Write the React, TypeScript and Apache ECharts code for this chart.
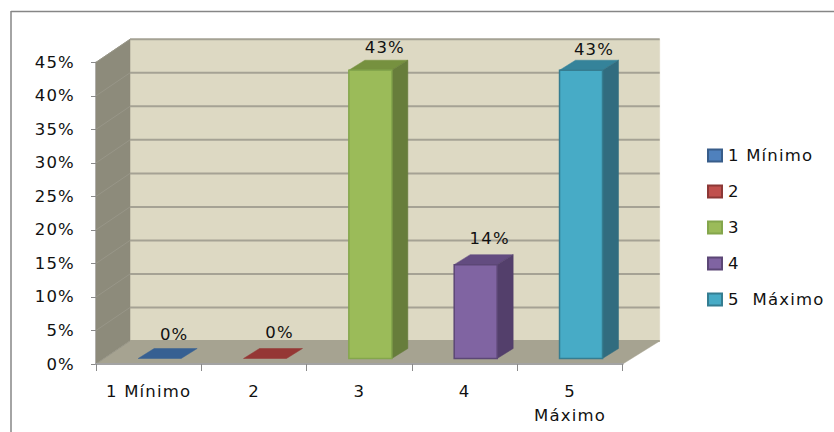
import React, { useEffect, useRef } from "react";
import * as echarts from "echarts";

const categories = ["1 Mínimo", "2", "3", "4", "5\nMáximo"];
const legendNames = ["1 Mínimo", "2", "3", "4", "5  Máximo"];
const shares = [0, 0, 43, 14, 43];
const percentTicks = [0, 5, 10, 15, 20, 25, 30, 35, 40, 45];

const frontColors = ["#4f81bd", "#c0504d", "#9bbb59", "#8064a2", "#47abc6"];
const edgeColors = ["#385d8a", "#8c3836", "#84a64c", "#5c4776", "#357d91"];
const topColors = ["#376092", "#953735", "#76913f", "#634c80", "#35839a"];
const sideColors = ["#2c4d75", "#772c2a", "#677d3b", "#533f6b", "#316c7f"];

// Oblique projection of the plot box and of the bars standing in it.
const WALL_DX = 34;
const WALL_DY = -23;
const BAR_SHIFT_X = 11;
const BAR_SHIFT_Y = -5.5;
const BAR_HALF = 21.5;
const SIDE_DX = 16;
const SIDE_DY = -10;
const labelShiftX = [14.5, 14.5, 14.5, 14, 13];
const labelLift = [4.5, 6, 2.5, 6, 0.5];

const FONT = "DejaVu Sans";
const FONT_SIZE = 16.5;

function poly(points: number[][], fill: string, stroke?: string) {
  return {
    type: "polygon",
    shape: { points },
    style: { fill, stroke: stroke ?? fill, lineWidth: stroke ? 1.5 : 0.5 },
  };
}

function renderWalls(_: any, api: any) {
  const bottomLeft = api.coord([0, 0]);
  const band = api.size([1, 0])[0];
  const x0 = bottomLeft[0] - band / 2;
  const x1 = x0 + band * categories.length;
  const y0 = bottomLeft[1];
  const y1 = api.coord([0, percentTicks[percentTicks.length - 1]])[1];
  const children: any[] = [
    poly([[x0 + WALL_DX, y1 + WALL_DY], [x1 + WALL_DX + 3, y1 + WALL_DY], [x1 + WALL_DX + 3, y0 + WALL_DY], [x0 + WALL_DX, y0 + WALL_DY]], "#ddd9c3"),
    poly([[x0, y1], [x0 + WALL_DX, y1 + WALL_DY], [x0 + WALL_DX, y0 + WALL_DY], [x0, y0]], "#8d8b7b"),
    poly([[x0, y0], [x0 + WALL_DX, y0 + WALL_DY], [x1 + WALL_DX + 3, y0 + WALL_DY], [x1, y0]], "#a6a391"),
  ];
  percentTicks.forEach((tick) => {
    const y = api.coord([0, tick])[1];
    children.push({
      type: "line",
      shape: { x1: x0 + WALL_DX, y1: y + WALL_DY, x2: x1 + WALL_DX + 3, y2: y + WALL_DY },
      style: { stroke: tick > 0 ? "#a5a294" : "#a6a391", lineWidth: 2 },
    });
    children.push({
      type: "line",
      shape: { x1: x0, y1: y, x2: x0 + WALL_DX, y2: y + WALL_DY },
      style: { stroke: "#989688", lineWidth: 1 },
    });
  });
  return { type: "group", children };
}

function renderBar(_: any, api: any) {
  const index = api.value(0);
  const value = api.value(1);
  const base = api.coord([index, 0]);
  const top = api.coord([index, value]);
  const left = base[0] + BAR_SHIFT_X - BAR_HALF;
  const right = base[0] + BAR_SHIFT_X + BAR_HALF;
  const yb = base[1] + BAR_SHIFT_Y;
  const yt = top[1] + BAR_SHIFT_Y;
  const children: any[] = [
    poly([[left, yt], [left + SIDE_DX, yt + SIDE_DY], [right + SIDE_DX, yt + SIDE_DY], [right, yt]], topColors[index]),
  ];
  if (value > 0) {
    children.push(
      poly([[right, yt], [right + SIDE_DX, yt + SIDE_DY], [right + SIDE_DX, yb + SIDE_DY], [right, yb]], sideColors[index]),
      poly([[left, yt], [right, yt], [right, yb], [left, yb]], frontColors[index], edgeColors[index]),
    );
  }
  children.push({
    type: "text",
    style: {
      text: `${value}%`,
      x: base[0] + BAR_SHIFT_X + labelShiftX[index],
      y: yt + SIDE_DY - labelLift[index] - 10,
      align: "center",
      verticalAlign: "middle",
      fontFamily: FONT,
      fontSize: FONT_SIZE,
      fill: "#111111",
    },
  });
  return { type: "group", children };
}

export default function App() {
  const ref = useRef<HTMLDivElement>(null);
  useEffect(() => {
    const chart = echarts.init(ref.current!, undefined, { renderer: "svg" });
    chart.setOption({
      animation: false,
      backgroundColor: "#ffffff",
      textStyle: { fontFamily: FONT },
      grid: { left: 96, right: 211.3, top: 62.3, bottom: 68 },
      xAxis: {
        type: "category",
        data: categories,
        z: 5,
        axisLine: { show: true, lineStyle: { color: "#a3a3a3", width: 2 } },
        axisTick: { show: true, length: 7, alignWithLabel: false, lineStyle: { color: "#8a8a8a", width: 1 } },
        axisLabel: { color: "#111111", fontSize: FONT_SIZE, fontFamily: FONT, margin: 15, lineHeight: 24, interval: 0 },
      },
      yAxis: {
        type: "value",
        min: 0,
        max: 45,
        interval: 5,
        splitLine: { show: false },
        axisLine: { show: true, lineStyle: { color: "#a3a3a3", width: 1.5 } },
        axisTick: { show: true, length: 5, lineStyle: { color: "#8a8a8a", width: 1 } },
        axisLabel: { color: "#111111", fontSize: FONT_SIZE, fontFamily: FONT, margin: 21, padding: [4, 0, 0, 0], formatter: (v: number) => `${v}%` },
      },
      legend: {
        orient: "vertical",
        left: 702,
        top: 142,
        itemWidth: 14,
        itemHeight: 12,
        itemGap: 19,
        icon: "rect",
        selectedMode: false,
        data: legendNames,
        textStyle: { color: "#111111", fontSize: FONT_SIZE, fontFamily: FONT, padding: [0, 0, 0, 1] },
      },
      graphic: [
        { type: "line", shape: { x1: 11, y1: 11.5, x2: 834, y2: 11.5 }, style: { stroke: "#868686", lineWidth: 1.5 } },
        { type: "line", shape: { x1: 11, y1: 11, x2: 11, y2: 432 }, style: { stroke: "#868686", lineWidth: 1.5 } },
      ],
      series: [
        {
          type: "custom",
          name: "walls",
          silent: true,
          z: 1,
          renderItem: renderWalls,
          encode: { x: 0, y: 1 },
          data: [[0, 0]],
        },
        ...legendNames.map((name, i) => ({
          type: "custom",
          name,
          z: 2 + i,
          renderItem: renderBar,
          encode: { x: 0, y: 1 },
          itemStyle: { color: frontColors[i], borderColor: edgeColors[i], borderWidth: 1 },
          data: [[i, shares[i]]],
        })),
      ],
    });
    return () => chart.dispose();
  }, []);
  return (
    <div
      ref={ref}
      style={{ position: "fixed", left: 0, top: 0, width: 834, height: 432, letterSpacing: "1.2px" }}
    />
  );
}
